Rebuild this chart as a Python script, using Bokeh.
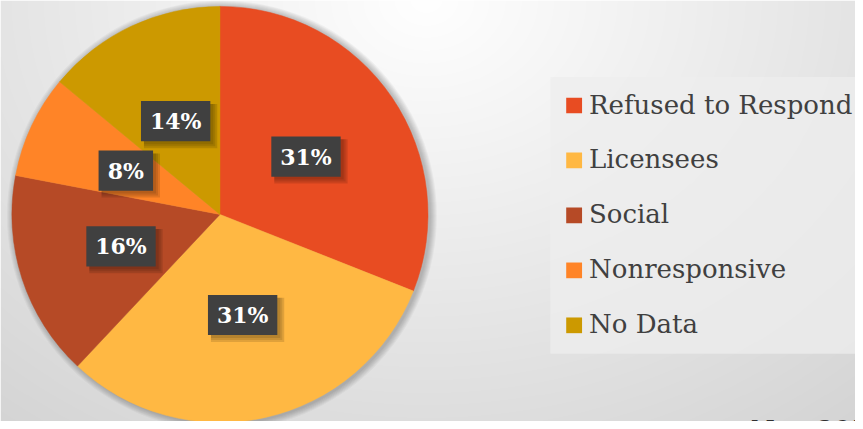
import numpy as np
from bokeh.plotting import figure
from bokeh.models import Range1d, ColumnDataSource
from bokeh.core.properties import value
from bokeh.embed import file_html
from bokeh.resources import INLINE

# ---- data ----
categories = ["Refused to Respond", "Licensees", "Social", "Nonresponsive", "No Data"]
percent = [31, 31, 16, 8, 14]
colors = ["#E84C22", "#FFB843", "#B64A26", "#FF8427", "#CC9900"]
note = "N = 397"

SERIF = value("DejaVu Serif")

W, H = 855, 421
RW, RH = 863, 429
p = figure(width=W, height=H, output_backend="svg", toolbar_location=None,
           x_range=Range1d(0, RW), y_range=Range1d(0, RH), min_border=0)
p.axis.visible = False
p.grid.visible = False
p.outline_line_color = None
p.background_fill_color = "#ffffff"
p.border_fill_color = "#ffffff"

# ---- background radial gradient ----
jj, ii = np.meshgrid(np.arange(RW), np.arange(RH))
X = jj + 0.5
Yref = RH - (ii + 0.5)
d = np.sqrt((X - 430) ** 2 + (Yref / 0.8) ** 2)
v = np.clip(255 - 0.062 * d, 200, 255).astype(np.uint32)
img = (255 << 24) | (v << 16) | (v << 8) | v
p.image_rgba(image=[img.view(np.uint32)], x=0, y=0, dw=RW, dh=RH)

# ---- pie ----
cx, cy, R = 221.5, 211.0, 210.0
total = float(sum(percent))
fr = np.array(percent) / total
cum = np.concatenate([[0], np.cumsum(fr)])
start = np.pi / 2 - 2 * np.pi * cum[:-1]
end = np.pi / 2 - 2 * np.pi * cum[1:]
mid = (start + end) / 2

# soft shadow around pie
for k in range(7):
    p.circle(x=cx + 2, y=cy - 1, radius=R + 1 + k, fill_color="black",
             fill_alpha=0.035, line_color=None)

src = ColumnDataSource(dict(start=start, end=end, color=colors, name=categories))
p.wedge(x=cx, y=cy, radius=R, start_angle="start", end_angle="end",
        direction="clock", fill_color="color", line_color="color", line_width=0.5,
        source=src)

# ---- data labels ----
labels = [f"{v}%" for v in percent]
lx = cx + 0.5 * R * np.cos(mid)
ly = cy + 0.5 * R * np.sin(mid)
bw = [70 if len(t) > 2 else 55 for t in labels]
for k, a in enumerate([0.10, 0.10, 0.12]):
    off = 3 + k
    p.rect(x=lx + off, y=ly - off, width=[w + 2 * k for w in bw], height=41 + 2 * k,
           fill_color="black", fill_alpha=a, line_color=None)
p.rect(x=lx, y=ly, width=bw, height=41, fill_color="#404040", line_color=None)
p.text(x=lx, y=ly, text=labels, text_align="center", text_baseline="middle",
       text_color="white", text_font=SERIF,
       text_font_style="bold", text_font_size="22px")

# ---- legend ----
p.quad(left=555, right=880, bottom=RH - 360, top=RH - 78,
       fill_color="#ededed", fill_alpha=0.75, line_color=None)
rows = RH - (107 + 56 * np.arange(len(categories)))
p.rect(x=579, y=rows, width=16, height=16, fill_color=colors, line_color=None)
p.text(x=594, y=rows + 1, text=categories, text_align="left", text_baseline="middle",
       text_color="#404040", text_font=SERIF, text_font_size="26px")

# ---- note (cut off at bottom, as in the reference) ----
p.text(x=[757], y=[7], text=[note], text_align="left", text_baseline="top",
       text_color="#303030", text_font=SERIF, text_font_size="28px")

open("out.html", "w").write(file_html(p, INLINE))
